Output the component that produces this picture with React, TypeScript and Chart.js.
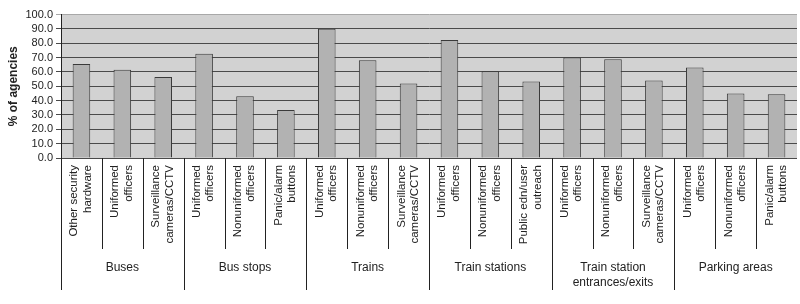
import React, { useEffect, useRef } from "react";
import { Chart, registerables } from "chart.js";

Chart.register(...registerables);

const groupLabels: (string | string[])[] = [
  "Buses",
  "Bus stops",
  "Trains",
  "Train stations",
  ["Train station", "entrances/exits"],
  "Parking areas",
];

const categoryLabels: string[][] = [
  ["Other security", "hardware"],
  ["Uniformed", "officers"],
  ["Surveillance", "cameras/CCTV"],
  ["Uniformed", "officers"],
  ["Nonuniformed", "officers"],
  ["Panic/alarm", "buttons"],
  ["Uniformed", "officers"],
  ["Nonuniformed", "officers"],
  ["Surveillance", "cameras/CCTV"],
  ["Uniformed", "officers"],
  ["Nonuniformed", "officers"],
  ["Public edn/user", "outreach"],
  ["Uniformed", "officers"],
  ["Nonuniformed", "officers"],
  ["Surveillance", "cameras/CCTV"],
  ["Uniformed", "officers"],
  ["Nonuniformed", "officers"],
  ["Panic/alarm", "buttons"],
];

const percentValues: number[] = [
  65.5, 61.5, 56.5,
  72.7, 43.0, 33.5,
  90.0, 68.2, 52.0,
  82.3, 60.5, 53.3,
  70.0, 68.9, 54.0,
  63.0, 45.0, 44.5,
];

const yMin = 0;
const yMax = 100;
const yStep = 10;
const yTitle = "% of agencies";
const perGroup = 3;

const FONT = "'Liberation Sans', Arial, Helvetica, sans-serif";

const groupPlugin = {
  id: "groupPlugin",
  beforeDraw(chart: any) {
    const { ctx, chartArea } = chart;
    ctx.save();
    ctx.fillStyle = "#d2d2d2";
    ctx.fillRect(chartArea.left, chartArea.top, chartArea.right - chartArea.left, chartArea.bottom - chartArea.top);
    ctx.restore();
  },
  afterDraw(chart: any) {
    const { ctx, chartArea } = chart;
    const xs = chart.scales.x;
    const half = (xs.getPixelForValue(1) - xs.getPixelForValue(0)) / 2;
    const bottom = chartArea.bottom;
    const catBottom = 249;
    const groupBottom = 290;
    ctx.save();
    ctx.strokeStyle = "#222";
    ctx.lineWidth = 1;
    const n = categoryLabels.length;
    for (let i = 0; i < n; i++) {
      const bx = Math.round(xs.getPixelForValue(i) - half) + 0.5;
      const isGroup = i % perGroup === 0;
      ctx.beginPath();
      ctx.moveTo(bx, bottom);
      ctx.lineTo(bx, isGroup ? groupBottom : catBottom);
      ctx.stroke();
    }
    // category labels (rotated)
    ctx.fillStyle = "#222";
    ctx.font = `11.5px ${FONT}`;
    ctx.textAlign = "right";
    ctx.textBaseline = "middle";
    const lh = 13.3;
    categoryLabels.forEach((lab, i) => {
      const cx = xs.getPixelForValue(i) - 0.5;
      ctx.save();
      ctx.translate(cx, bottom + 7);
      ctx.rotate(-Math.PI / 2);
      lab.forEach((l, li) => {
        ctx.fillText(l, 0, (li - (lab.length - 1) / 2) * lh);
      });
      ctx.restore();
    });
    // group labels
    ctx.font = `12px ${FONT}`;
    ctx.textAlign = "center";
    groupLabels.forEach((g, gi) => {
      const x0 = xs.getPixelForValue(gi * perGroup) - half;
      const x1 = xs.getPixelForValue(gi * perGroup + perGroup - 1) + half;
      const cx = (x0 + x1) / 2;
      const lines = Array.isArray(g) ? g : [g];
      lines.forEach((l, li) => {
        ctx.fillText(l, cx, 268 + li * 15);
      });
    });
    ctx.restore();
  },
};

export default function App() {
  const canvasRef = useRef<HTMLCanvasElement | null>(null);

  useEffect(() => {
    if (!canvasRef.current) return;
    const chart = new Chart(canvasRef.current, {
      type: "bar",
      data: {
        labels: categoryLabels.map((l) => l.join(" ")),
        datasets: [
          {
            data: percentValues,
            backgroundColor: "#b2b2b2",
            borderColor: "#3a3a3a",
            borderWidth: 1,
            barPercentage: 0.43,
            categoryPercentage: 1,
          },
        ],
      },
      options: {
        animation: false,
        responsive: true,
        maintainAspectRatio: false,
        layout: { padding: { top: 14.5, right: 3, left: 0, bottom: 0 } },
        plugins: {
          legend: { display: false },
          tooltip: { enabled: false },
        },
        scales: {
          x: {
            grid: { display: false },
            border: { display: false },
            ticks: { display: false },
            afterFit(scale: any) {
              scale.height = 146;
            },
          },
          y: {
            min: yMin,
            max: yMax,
            ticks: {
              stepSize: yStep,
              autoSkip: false,
              color: "#222",
              padding: 3,
              font: { family: FONT, size: 11 },
              callback: (v: any) => Number(v).toFixed(1),
            },
            grid: {
              color: (c: any) => (c.tick && c.tick.value === yMax ? "#a8a8a8" : "#4a4a4a"),
              lineWidth: 1,
              tickLength: 5,
              drawTicks: true,
            },
            border: { display: true, color: "#222", width: 1 },
            title: {
              display: true,
              text: yTitle,
              color: "#222",
              font: { family: FONT, size: 12, weight: "bold" },
              padding: { top: 6, bottom: 0 },
            },
            afterFit(scale: any) {
              scale.width = 61;
            },
          },
        },
      },
      plugins: [groupPlugin],
    });
    return () => chart.destroy();
  }, []);

  return (
    <div style={{ position: "fixed", left: 0, top: 0, width: 800, height: 304, background: "#fff" }}>
      <canvas ref={canvasRef} />
    </div>
  );
}
